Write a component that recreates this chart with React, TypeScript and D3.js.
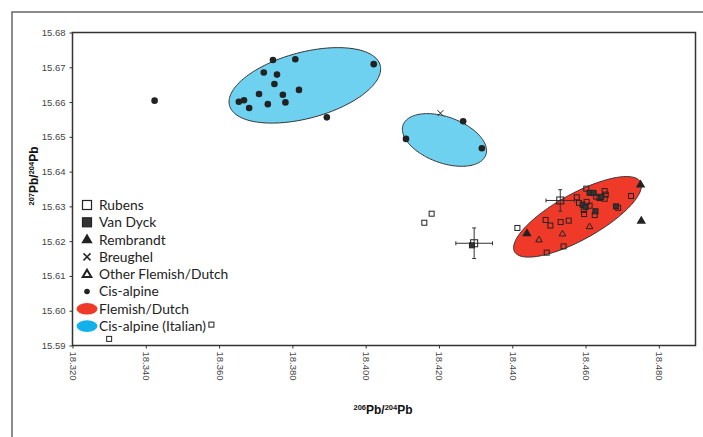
import React, { useEffect, useRef } from 'react';
import * as d3 from 'd3';

// axis ticks
const xTicks = [18.32, 18.34, 18.36, 18.38, 18.4, 18.42, 18.44, 18.46, 18.48];
const yTicks = [15.59, 15.6, 15.61, 15.62, 15.63, 15.64, 15.65, 15.66, 15.67, 15.68];

// [206Pb/204Pb, 207Pb/204Pb]
const rubens = [
  [18.418, 15.6279], [18.416, 15.6253], [18.4414, 15.6238], [18.4491, 15.6261],
  [18.4504, 15.6245], [18.4532, 15.6255], [18.4554, 15.6259], [18.4576, 15.6326],
  [18.4602, 15.6351], [18.4582, 15.631], [18.4603, 15.6313], [18.4611, 15.6302],
  [18.4595, 15.629], [18.4596, 15.6278], [18.4625, 15.6275], [18.4652, 15.6344],
  [18.4655, 15.6334], [18.4652, 15.6322], [18.4638, 15.6324], [18.4629, 15.6328],
  [18.4689, 15.6296], [18.4724, 15.633], [18.454, 15.6185], [18.4494, 15.6167],
  [18.3579, 15.596], [18.33, 15.5919],
];
// [x, y, xErr, yErr]
const rubensWithErrors = [
  [18.4296, 15.6194, 0.005, 0.0044],
  [18.4531, 15.6317, 0.0039, 0.0031],
];
const vanDyck = [
  [18.4611, 15.6339], [18.4622, 15.6339], [18.4592, 15.6305], [18.46, 15.6298],
  [18.4627, 15.6286], [18.4683, 15.63], [18.4643, 15.6327], [18.429, 15.6188],
];
const rembrandt = [[18.475, 15.6363], [18.444, 15.6223], [18.4752, 15.6259]];
const breughel = [[18.4204, 15.6568]];
const otherFlemish = [[18.4473, 15.6204], [18.4537, 15.6221], [18.4611, 15.6242]];
const cisAlpine = [
  [18.3424, 15.6604], [18.3747, 15.6721], [18.3808, 15.6723], [18.4022, 15.6709],
  [18.3722, 15.6685], [18.3758, 15.6679], [18.3751, 15.6652], [18.3818, 15.6635],
  [18.3709, 15.6623], [18.3774, 15.6621], [18.3654, 15.6601], [18.3668, 15.6605],
  [18.3682, 15.6583], [18.3733, 15.6594], [18.3781, 15.6599], [18.3894, 15.6556],
  [18.411, 15.6494], [18.4266, 15.6545], [18.4317, 15.6467],
];

// ellipses: centre and two semi-axis vectors, in data units
const cisAlpineEllipses = [
  { c: [18.3834, 15.6648], a: [0.02055, 0.0058], b: [0.00233, -0.00917] },
  { c: [18.4215, 15.6491], a: [0.01128, -0.00433], b: [-0.00215, -0.00621] },
];
const flemishEllipse = { c: [18.4578, 15.627], a: [0.01717, 0.01004], b: [0.00304, -0.00578] };

const legendLabels = [
  'Rubens', 'Van Dyck', 'Rembrandt', 'Breughel', 'Other Flemish/Dutch',
  'Cis-alpine', 'Flemish/Dutch', 'Cis-alpine (Italian)',
];

const RED = '#f03a29';
const BLUE = '#6fd1f0';
const BLUE_KEY = '#12b1ea';
const INK = '#222';

function Chart() {
  const svgRef = useRef<SVGSVGElement>(null);

  useEffect(() => {
    const svg = d3.select(svgRef.current);
    svg.selectAll('*').remove();

    const width = 703;
    const height = 437;
    const margin = { top: 32.5, right: 7.5, bottom: 91.5, left: 72.5 };

    svg.attr('width', width).attr('height', height);

    const x = d3.scaleLinear().domain([18.32, 18.49]).range([margin.left, width - margin.right]);
    const y = d3.scaleLinear().domain([15.59, 15.68]).range([height - margin.bottom, margin.top]);

    // outer frame (top and left only)
    svg.append('path')
      .attr('d', `M12,${height}V12H${width}`)
      .attr('fill', 'none')
      .attr('stroke', '#666')
      .attr('stroke-width', 1.5);

    // ellipses
    const ellipsePath = (e) => {
      const pts = d3.range(0, 2 * Math.PI, Math.PI / 90).map((t) => [
        e.c[0] + Math.cos(t) * e.a[0] + Math.sin(t) * e.b[0],
        e.c[1] + Math.cos(t) * e.a[1] + Math.sin(t) * e.b[1],
      ]);
      return d3.line().x((d) => x(d[0])).y((d) => y(d[1])).curve(d3.curveLinearClosed)(pts);
    };

    svg.append('g').selectAll('path')
      .data(cisAlpineEllipses)
      .join('path')
      .attr('d', ellipsePath)
      .attr('fill', BLUE)
      .attr('stroke', '#333')
      .attr('stroke-width', 1);

    svg.append('path')
      .attr('d', ellipsePath(flemishEllipse))
      .attr('fill', RED)
      .attr('stroke', '#333')
      .attr('stroke-width', 1);

    // plot frame
    svg.append('rect')
      .attr('x', margin.left)
      .attr('y', margin.top)
      .attr('width', width - margin.right - margin.left)
      .attr('height', height - margin.bottom - margin.top)
      .attr('fill', 'none')
      .attr('stroke', '#333')
      .attr('stroke-width', 1.5);

    // axes
    const xAxis = svg.append('g')
      .attr('transform', `translate(0,${height - margin.bottom})`)
      .call(d3.axisBottom(x).tickValues(xTicks).tickFormat(d3.format('.3f')).tickSize(3).tickSizeOuter(0));
    xAxis.select('.domain').remove();
    xAxis.selectAll('line').attr('stroke', '#333');
    xAxis.selectAll('text')
      .attr('transform', 'rotate(90)')
      .attr('x', 6)
      .attr('y', 0)
      .attr('dy', '0.32em')
      .attr('text-anchor', 'start')
      .attr('fill', '#444')
      .style('font', '9.5px "Liberation Sans", Arial, sans-serif');

    const yAxis = svg.append('g')
      .attr('transform', `translate(${margin.left},0)`)
      .call(d3.axisLeft(y).tickValues(yTicks).tickFormat(d3.format('.2f')).tickSize(3).tickSizeOuter(0));
    yAxis.select('.domain').remove();
    yAxis.selectAll('line').attr('stroke', '#333');
    yAxis.selectAll('text')
      .attr('x', -7)
      .attr('fill', '#444')
      .style('font', '9.5px "Liberation Sans", Arial, sans-serif');

    // error bars
    const err = svg.append('g').attr('stroke', '#333').attr('stroke-width', 1);
    rubensWithErrors.forEach(([cx, cy, ex, ey]) => {
      err.append('line').attr('x1', x(cx - ex)).attr('x2', x(cx + ex)).attr('y1', y(cy)).attr('y2', y(cy));
      err.append('line').attr('x1', x(cx)).attr('x2', x(cx)).attr('y1', y(cy - ey)).attr('y2', y(cy + ey));
      [cx - ex, cx + ex].forEach((v) => err.append('line')
        .attr('x1', x(v)).attr('x2', x(v)).attr('y1', y(cy) - 2).attr('y2', y(cy) + 2));
      [cy - ey, cy + ey].forEach((v) => err.append('line')
        .attr('x1', x(cx) - 2).attr('x2', x(cx) + 2).attr('y1', y(v)).attr('y2', y(v)));
    });

    const square = (g, data, size, filled) => g.append('g').selectAll('rect')
      .data(data)
      .join('rect')
      .attr('x', (d) => x(d[0]) - size / 2)
      .attr('y', (d) => y(d[1]) - size / 2)
      .attr('width', size)
      .attr('height', size)
      .attr('fill', filled ? '#333' : 'none')
      .attr('stroke', INK)
      .attr('stroke-width', 1);

    const tri = (r) => `M0,${-r}L${r * 0.95},${r * 0.6}L${-r * 0.95},${r * 0.6}Z`;

    square(svg, rubens, 5, false);
    square(svg, rubensWithErrors, 7, false);
    square(svg, vanDyck, 5, true);

    svg.append('g').selectAll('path')
      .data(rembrandt)
      .join('path')
      .attr('transform', (d) => `translate(${x(d[0])},${y(d[1])})`)
      .attr('d', tri(5))
      .attr('fill', INK);

    svg.append('g').selectAll('path')
      .data(otherFlemish)
      .join('path')
      .attr('transform', (d) => `translate(${x(d[0])},${y(d[1])})`)
      .attr('d', tri(3.5))
      .attr('fill', 'none')
      .attr('stroke', INK)
      .attr('stroke-width', 1);

    svg.append('g').selectAll('path')
      .data(breughel)
      .join('path')
      .attr('transform', (d) => `translate(${x(d[0])},${y(d[1])})`)
      .attr('d', 'M-3,-3L3,3M-3,3L3,-3')
      .attr('stroke', INK)
      .attr('stroke-width', 1);

    svg.append('g').selectAll('circle')
      .data(cisAlpine)
      .join('circle')
      .attr('cx', (d) => x(d[0]))
      .attr('cy', (d) => y(d[1]))
      .attr('r', 3.3)
      .attr('fill', INK);

    // legend
    const legend = svg.append('g').attr('transform', 'translate(87,205)');
    const rowH = 17.3;
    legendLabels.forEach((label, i) => {
      const row = legend.append('g').attr('transform', `translate(0,${i * rowH})`);
      if (i === 0 || i === 1) {
        row.append('rect').attr('x', -4.5).attr('y', -4.5).attr('width', 9).attr('height', 9)
          .attr('fill', i === 1 ? '#333' : '#fff').attr('stroke', INK).attr('stroke-width', 1.2);
      } else if (i === 2) {
        row.append('path').attr('d', tri(6)).attr('fill', INK);
      } else if (i === 3) {
        row.append('path').attr('d', 'M-3.5,-3.5L3.5,3.5M-3.5,3.5L3.5,-3.5')
          .attr('stroke', INK).attr('stroke-width', 1.5);
      } else if (i === 4) {
        row.append('path').attr('d', tri(4.5)).attr('fill', 'none')
          .attr('stroke', INK).attr('stroke-width', 2);
      } else if (i === 5) {
        row.append('circle').attr('r', 2.8).attr('fill', INK);
      } else {
        row.append('ellipse').attr('rx', 10.5).attr('ry', 5.8).attr('fill', i === 6 ? RED : BLUE_KEY);
      }
      row.append('text')
        .attr('x', 12)
        .attr('dy', '0.36em')
        .attr('fill', INK)
        .style('font', '13.8px Lato, "Open Sans", sans-serif')
        .text(label);
    });

    // axis titles
    const xTitle = svg.append('text')
      .attr('x', 383)
      .attr('y', 414)
      .attr('text-anchor', 'middle')
      .attr('fill', '#111')
      .style('font', 'bold 12px "Liberation Sans", Arial, sans-serif');
    xTitle.append('tspan').attr('font-size', 7.5).attr('dy', -4.5).text('206');
    xTitle.append('tspan').attr('dy', 4.5).text('Pb/');
    xTitle.append('tspan').attr('font-size', 7.5).attr('dy', -4.5).text('204');
    xTitle.append('tspan').attr('dy', 4.5).text('Pb');

    const yTitle = svg.append('text')
      .attr('transform', 'translate(38,176) rotate(-90)')
      .attr('text-anchor', 'middle')
      .attr('fill', '#111')
      .style('font', 'bold 12px "Liberation Sans", Arial, sans-serif');
    yTitle.append('tspan').attr('font-size', 7.5).attr('dy', -4.5).text('207');
    yTitle.append('tspan').attr('dy', 4.5).text('Pb/');
    yTitle.append('tspan').attr('font-size', 7.5).attr('dy', -4.5).text('204');
    yTitle.append('tspan').attr('dy', 4.5).text('Pb');
  }, []);

  return <svg ref={svgRef} style={{ position: 'absolute', left: 0, top: 0, background: '#fff' }}></svg>;
}

export default function App() {
  return <Chart />;
}
